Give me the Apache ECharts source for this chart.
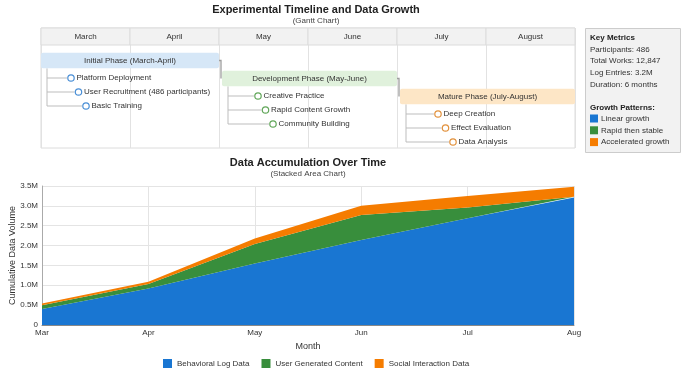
<!DOCTYPE html>
<html>
<head>
<meta charset="utf-8">
<script src="https://cdn.jsdelivr.net/npm/echarts@6/dist/echarts.min.js"></script>
<style>
  html, body { margin: 0; padding: 0; background: #fff; }
  #chart { width: 685px; height: 373px; }
</style>
</head>
<body>
<div id="chart"></div>
<script>
// gantt part
const ganttMonths = ['March', 'April', 'May', 'June', 'July', 'August']
const phaseNames = ['Initial Phase (March-April)', 'Development Phase (May-June)', 'Mature Phase (July-August)']
const phaseStart = [0, 2, 4]
const phaseEnd = [2, 4, 6]
const phaseTasks = [
  ['Platform Deployment', 'User Recruitment (486 participants)', 'Basic Training'],
  ['Creative Practice', 'Rapid Content Growth', 'Community Building'],
  ['Deep Creation', 'Effect Evaluation', 'Data Analysis']
]
const metricLines = ['Participants: 486', 'Total Works: 12,847', 'Log Entries: 3.2M', 'Duration: 6 months']
const patternLabels = ['Linear growth', 'Rapid then stable', 'Accelerated growth']

// area part (millions)
const months = ['Mar', 'Apr', 'May', 'Jun', 'Jul', 'Aug']
const behavioral = [0.40, 0.92, 1.55, 2.14, 2.69, 3.21]
const userContent = [0.10, 0.11, 0.49, 0.63, 0.27, 0.02]
const social = [0.04, 0.06, 0.14, 0.23, 0.29, 0.25]
const seriesNames = ['Behavioral Log Data', 'User Generated Content', 'Social Interaction Data']

const colors = ['#1976D2', '#388E3C', '#F57C00']
const phaseFill = ['#d6e7f7', '#e0f1dc', '#fde6c6']
const taskStroke = ['#4a8fd6', '#62a75a', '#e2913c']
const font = 'Liberation Sans, Arial, sans-serif'

const HEADER_H = 1.7
const phaseY = p => 3.25 + 1.8 * p
const taskY = (p, t) => phaseY(p) + 1.75 + 1.4 * t
const taskIndent = [30, 36, 38]

function barLeft (api, p) {
  return api.coord([phaseStart[p], 0])[0] + (p > 0 ? 3 : 0)
}

function renderHeader (params, api) {
  const i = params.dataIndex
  const a = api.coord([i, 0])
  const b = api.coord([i + 1, HEADER_H])
  return {
    type: 'group',
    children: [{
      type: 'rect',
      shape: { x: a[0], y: a[1], width: b[0] - a[0], height: b[1] - a[1] },
      style: { fill: '#f2f2f2', stroke: '#dcdcdc', lineWidth: 1 }
    }, {
      type: 'text',
      style: { text: ganttMonths[i], x: (a[0] + b[0]) / 2, y: (a[1] + b[1]) / 2, align: 'center', verticalAlign: 'middle', fontSize: 8, fontFamily: font, fill: '#333' }
    }]
  }
}

function renderPhase (params, api) {
  const p = params.dataIndex
  const yc = api.coord([0, phaseY(p)])[1]
  const x0 = barLeft(api, p)
  const x1 = api.coord([phaseEnd[p], 0])[0]
  const h = 15.6
  const children = []
  const tasks = phaseTasks[p]
  const lx = x0 + 6
  const lastY = api.coord([0, taskY(p, tasks.length - 1)])[1]
  children.push({ type: 'line', shape: { x1: lx, y1: yc + h / 2, x2: lx, y2: lastY }, style: { stroke: '#bdbdbd', lineWidth: 1 } })
  tasks.forEach((t, k) => {
    const ty = api.coord([0, taskY(p, k)])[1]
    const cx = x0 + taskIndent[p] + k * 7.5
    children.push({ type: 'line', shape: { x1: lx, y1: ty, x2: cx - 4, y2: ty }, style: { stroke: '#bdbdbd', lineWidth: 1 } })
  })
  if (p < phaseNames.length - 1) {
    const ny = api.coord([0, phaseY(p + 1)])[1]
    children.push({ type: 'polyline', shape: { points: [[x1, yc], [x1 + 2, yc], [x1 + 2, ny]] }, style: { stroke: '#9e9e9e', lineWidth: 1.3, fill: null } })
  }
  children.push({
    type: 'rect',
    shape: { x: x0, y: yc - h / 2, width: x1 - x0, height: h, r: 2 },
    style: { fill: phaseFill[p] }
  })
  children.push({
    type: 'text',
    style: { text: phaseNames[p], x: (x0 + x1) / 2, y: yc, align: 'center', verticalAlign: 'middle', fontSize: 8, fontFamily: font, fill: '#333' }
  })
  return { type: 'group', children: children }
}

function renderTask (params, api) {
  const p = api.value(0)
  const k = api.value(1)
  const x0 = barLeft(api, p)
  const cx = x0 + taskIndent[p] + k * 7.5
  const cy = api.coord([0, taskY(p, k)])[1]
  return {
    type: 'group',
    children: [{
      type: 'circle',
      shape: { cx: cx, cy: cy, r: 3.2 },
      style: { fill: '#fff', stroke: taskStroke[p], lineWidth: 1.2 }
    }, {
      type: 'text',
      style: { text: phaseTasks[p][k], x: cx + 5.5, y: cy, align: 'left', verticalAlign: 'middle', fontSize: 8, fontFamily: font, fill: '#333' }
    }]
  }
}

const taskData = []
phaseTasks.forEach((list, p) => list.forEach((t, k) => taskData.push([p, k])))

// key metrics panel
const panel = [{ type: 'rect', left: 585, top: 28, shape: { width: 95, height: 124 }, style: { fill: '#f2f2f2', stroke: '#cccccc', lineWidth: 1 } }]
panel.push({ type: 'text', left: 590, top: 33.5, style: { text: 'Key Metrics', fontSize: 8, fontWeight: 'bold', fontFamily: font, fill: '#222' } })
metricLines.forEach((m, i) => {
  panel.push({ type: 'text', left: 590, top: 45.5 + i * 11.7, style: { text: m, fontSize: 8, fontFamily: font, fill: '#333' } })
})
panel.push({ type: 'text', left: 590, top: 103.5, style: { text: 'Growth Patterns:', fontSize: 8, fontWeight: 'bold', fontFamily: font, fill: '#222' } })
patternLabels.forEach((m, i) => {
  panel.push({ type: 'rect', left: 590, top: 114.5 + i * 11.8, shape: { width: 8, height: 8 }, style: { fill: colors[i] } })
  panel.push({ type: 'text', left: 601, top: 114.5 + i * 11.8, style: { text: m, fontSize: 8, fontFamily: font, fill: '#333' } })
})

const areaData = [behavioral, userContent, social]

const myChart = echarts.init(document.getElementById('chart'))
const option = {
  backgroundColor: '#fff',
  animation: false,
  textStyle: { fontFamily: font },
  title: [{
    text: 'Experimental Timeline and Data Growth',
    subtext: '(Gantt Chart)',
    left: 316,
    top: 4,
    textAlign: 'center',
    padding: 0,
    itemGap: 2,
    textStyle: { fontSize: 11, fontWeight: 'bold', color: '#222', fontFamily: font },
    subtextStyle: { fontSize: 8, color: '#444', fontFamily: font }
  }, {
    text: 'Data Accumulation Over Time',
    subtext: '(Stacked Area Chart)',
    left: 308,
    top: 157,
    textAlign: 'center',
    padding: 0,
    itemGap: 2,
    textStyle: { fontSize: 11, fontWeight: 'bold', color: '#222', fontFamily: font },
    subtextStyle: { fontSize: 8, color: '#444', fontFamily: font }
  }],
  legend: {
    left: 158,
    top: 354,
    icon: 'rect',
    itemWidth: 9,
    itemHeight: 9,
    itemGap: 12,
    textStyle: { fontSize: 8, color: '#333', fontFamily: font },
    data: seriesNames
  },
  grid: [{
    left: 41, top: 28, width: 534, height: 120,
    outerBoundsMode: 'none',
    show: true, borderColor: '#dcdcdc', borderWidth: 1, backgroundColor: '#fff'
  }, {
    left: 42, right: 111, top: 186, bottom: 48,
    outerBoundsMode: 'none',
    containLabel: false
  }],
  xAxis: [{
    gridIndex: 0, type: 'value', min: 0, max: 6, interval: 1,
    axisLabel: { show: false }, axisLine: { show: false }, axisTick: { show: false },
    splitLine: { show: true, lineStyle: { color: '#e2e2e2' } }
  }, {
    gridIndex: 1, type: 'category', boundaryGap: false, data: months,
    name: 'Month', nameLocation: 'middle', nameGap: 17,
    nameTextStyle: { fontSize: 9, color: '#333', fontFamily: font },
    axisLine: { lineStyle: { color: '#888' } },
    axisTick: { show: false },
    axisLabel: { fontSize: 8, color: '#333', margin: 4 },
    splitLine: { show: true, lineStyle: { color: '#e4e4e4' } }
  }],
  yAxis: [{
    gridIndex: 0, type: 'value', min: 0, max: 12, inverse: true, show: false
  }, {
    gridIndex: 1, type: 'value', min: 0, max: 3500000, interval: 500000,
    name: 'Cumulative Data Volume', nameLocation: 'middle', nameGap: 25,
    nameMoveOverlap: false,
    nameTextStyle: { fontSize: 9, color: '#333', fontFamily: font },
    axisLine: { show: true, lineStyle: { color: '#aaa' } },
    axisTick: { show: false },
    axisLabel: {
      fontSize: 8, color: '#333', margin: 4,
      formatter: v => v === 0 ? '0' : (v / 1000000).toFixed(1) + 'M'
    },
    splitLine: { lineStyle: { color: '#e4e4e4' } }
  }],
  graphic: panel,
  series: [{
    type: 'custom', xAxisIndex: 0, yAxisIndex: 0, silent: true,
    renderItem: renderHeader, data: ganttMonths.map((m, i) => [i, 0])
  }, {
    type: 'custom', xAxisIndex: 0, yAxisIndex: 0, silent: true,
    renderItem: renderPhase, data: phaseNames.map((n, i) => [phaseStart[i], phaseY(i)])
  }, {
    type: 'custom', xAxisIndex: 0, yAxisIndex: 0, silent: true,
    renderItem: renderTask, data: taskData
  }].concat(seriesNames.map((n, i) => ({
    name: n,
    type: 'line',
    stack: 'total',
    xAxisIndex: 1,
    yAxisIndex: 1,
    symbol: 'none',
    showSymbol: false,
    lineStyle: { width: 0 },
    itemStyle: { color: colors[i] },
    areaStyle: { color: colors[i], opacity: 1 },
    data: areaData[i].map(v => Math.round(v * 1000000))
  })))
}
myChart.setOption(option, true)
</script>
</body>
</html>
